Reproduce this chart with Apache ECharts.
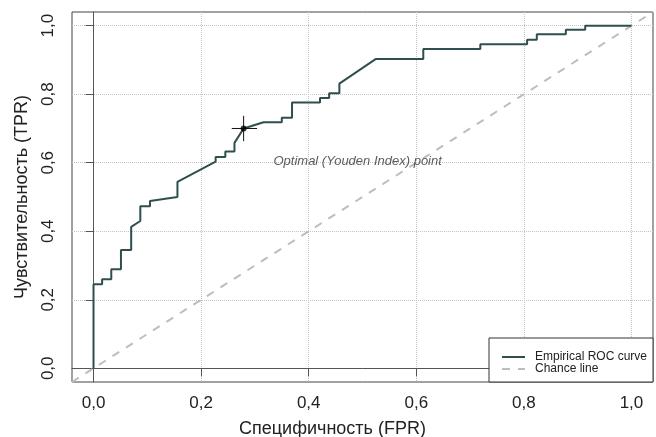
<!DOCTYPE html>
<html>
<head>
<meta charset="utf-8">
<script src="https://cdn.jsdelivr.net/npm/echarts@6/dist/echarts.min.js"></script>
<style>
  html, body { margin: 0; padding: 0; background: #fff; }
  #chart { width: 656px; height: 437px; }
</style>
</head>
<body>
<div id="chart"></div>
<script>
// ROC curve points: FPR / TPR
var fpr = [0, 0, 0.016, 0.016, 0.033, 0.033, 0.051, 0.051, 0.070, 0.070, 0.087, 0.087, 0.105, 0.105,
  0.156, 0.156, 0.227, 0.227, 0.245, 0.245, 0.262, 0.262, 0.279, 0.316, 0.350, 0.350, 0.369, 0.369,
  0.421, 0.421, 0.438, 0.438, 0.457, 0.457, 0.525, 0.613, 0.613, 0.719, 0.719, 0.806, 0.806, 0.824,
  0.824, 0.878, 0.878, 0.914, 0.914, 1.0];
var tpr = [0, 0.245, 0.245, 0.260, 0.260, 0.289, 0.289, 0.345, 0.345, 0.413, 0.430, 0.473, 0.473, 0.488,
  0.500, 0.544, 0.603, 0.617, 0.617, 0.633, 0.633, 0.658, 0.700, 0.718, 0.718, 0.731, 0.731, 0.776,
  0.776, 0.789, 0.789, 0.803, 0.803, 0.831, 0.903, 0.903, 0.932, 0.932, 0.946, 0.946, 0.959, 0.959,
  0.975, 0.975, 0.988, 0.988, 1.0, 1.0];
var chanceX = [-0.04, 1.04];
var chanceY = [-0.04, 1.04];
var optimalPoint = [0.279, 0.700];
var crossX = [0.257, 0.304];
var crossY = [0.663, 0.737];
var notePos = [0.491, 0.604];
var noteText = 'Optimal (Youden Index) point';
var ticks = [0, 0.2, 0.4, 0.6, 0.8, 1.0];

function zip(a, b) {
  var out = [];
  for (let i = 0; i < a.length; i++) {
    out.push([a[i], b[i]]);
  }
  return out;
}

function fmt(v) {
  return v.toFixed(1).replace('.', ',');
}

//ROC图
function rocChart() {
  const chart = echarts.init(document.getElementById('chart'));
  const font = 'Liberation Sans, Arial, sans-serif';
  const axisCommon = {
    type: 'value',
    min: -0.04,
    max: 1.04,
    nameLocation: 'middle',
    axisLine: { show: true, lineStyle: { color: '#555', width: 1 } },
    axisTick: { show: true, customValues: ticks, length: 8, lineStyle: { color: '#555' } },
    axisLabel: { customValues: ticks, fontSize: 17, color: '#222', fontFamily: font, formatter: fmt },
    splitLine: { show: true, lineStyle: { color: '#c4c4c4', type: 'dotted', width: 1 } }
  };
  chart.setOption({
    animation: false,
    grid: {
      left: 72, right: 3, top: 12, bottom: 55,
      outerBoundsMode: 'none',
      containLabel: false,
      show: true, borderColor: '#444', borderWidth: 1, backgroundColor: 'transparent'
    },
    legend: {
      data: ['Empirical ROC curve', 'Chance line'],
      orient: 'vertical',
      left: 489,
      top: 338,
      padding: [13, 6, 7, 12],
      itemGap: 0,
      itemWidth: 23,
      itemHeight: 12,
      borderColor: '#333',
      borderWidth: 1,
      borderRadius: 0,
      backgroundColor: '#fff',
      itemStyle: { opacity: 0 },
      textStyle: { fontSize: 12, color: '#222', fontFamily: font, lineHeight: 12, padding: [0, 0, 0, 5] }
    },
    xAxis: Object.assign({}, axisCommon, {
      name: 'Специфичность (FPR)',
      nameGap: 38,
      nameTextStyle: { fontSize: 18, color: '#222', fontFamily: font, padding: [0, 60, 0, 0] },
      axisLabel: Object.assign({}, axisCommon.axisLabel, { margin: 13 })
    }),
    yAxis: Object.assign({}, axisCommon, {
      name: 'Чувствительность (TPR)',
      nameGap: 41,
      nameTextStyle: { fontSize: 18, color: '#222', fontFamily: font },
      axisLabel: Object.assign({}, axisCommon.axisLabel, { rotate: 90, margin: 15 })
    }),
    series: [
      {
        name: 'Chance line',
        type: 'line',
        symbol: 'none',
        data: zip(chanceX, chanceY),
        lineStyle: { color: '#bdbdbd', width: 2, type: [8, 8] },
        itemStyle: { color: '#bdbdbd' },
        z: 2
      },
      {
        name: 'Empirical ROC curve',
        type: 'line',
        symbol: 'none',
        data: zip(fpr, tpr),
        lineStyle: { color: '#2f4f4f', width: 2 },
        itemStyle: { color: '#2f4f4f' },
        z: 3
      },
      {
        name: 'cross-h',
        type: 'line',
        symbol: 'none',
        data: [[crossX[0], optimalPoint[1]], [crossX[1], optimalPoint[1]]],
        lineStyle: { color: '#111', width: 1 },
        z: 4
      },
      {
        name: 'cross-v',
        type: 'line',
        symbol: 'none',
        data: [[optimalPoint[0], crossY[0]], [optimalPoint[0], crossY[1]]],
        lineStyle: { color: '#111', width: 1 },
        z: 4
      },
      {
        name: 'optimal',
        type: 'scatter',
        symbol: 'circle',
        symbolSize: 6,
        data: [optimalPoint],
        itemStyle: { color: '#000' },
        z: 5
      },
      {
        name: 'note',
        type: 'scatter',
        symbolSize: 0,
        data: [notePos],
        label: {
          show: true,
          position: 'inside',
          formatter: noteText,
          fontSize: 13,
          fontStyle: 'italic',
          color: '#333',
          fontFamily: font
        },
        z: 5
      }
    ]
  });
}

rocChart();
</script>
</body>
</html>
